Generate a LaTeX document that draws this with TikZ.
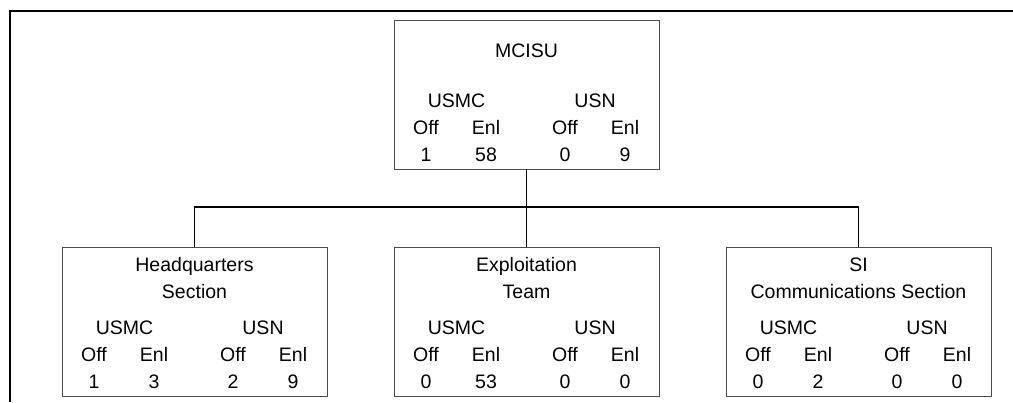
\documentclass[tikz,border=0pt]{standalone}
\usepackage{fontspec}
\setmainfont{Liberation Sans}
\usetikzlibrary{positioning,calc}
\tikzstyle{unit} =[rectangle, draw=black!70, line width=0.5pt, minimum width=5.3cm,
                   minimum height=2.98cm, inner sep=0pt]
\tikzstyle{lbl}  =[inner sep=0pt, anchor=base, font=\fontsize{11.1}{13}\selectfont]
\tikzstyle{link} =[line width=0.6pt, black]
\tikzstyle{frame}=[line width=1.5pt, black]

% counts table inside a unit box: USMC Off/Enl, USN Off/Enl
\newcommand{\strength}[5]{%
  \node[lbl] (#1-usmc) at ([shift={(-70,88)}]#1.north)    {USMC};
  \node[lbl] (#1-usn)  at ([shift={(68.5,88)}]#1.north)   {USN};
  \node[lbl] (#1-moff) at ([shift={(-100.5,115)}]#1.north) {Off};
  \node[lbl] (#1-menl) at ([shift={(-40.5,115)}]#1.north)  {Enl};
  \node[lbl] (#1-noff) at ([shift={(38.5,115)}]#1.north)   {Off};
  \node[lbl] (#1-nenl) at ([shift={(98.5,115)}]#1.north)   {Enl};
  \node[lbl] (#1-mo)   at ([shift={(-100.5,142)}]#1.north) {#2};
  \node[lbl] (#1-me)   at ([shift={(-40.5,142)}]#1.north)  {#3};
  \node[lbl] (#1-no)   at ([shift={(38.5,142)}]#1.north)   {#4};
  \node[lbl] (#1-ne)   at ([shift={(98.5,142)}]#1.north)   {#5};
}

\begin{document}
\begin{tikzpicture}[x=0.02cm, y=-0.02cm]
  \useasboundingbox (0,0) rectangle (1013,402);

  % ── frame ──────────────────────────────────────────────────────────────────
  \coordinate (frame-bl) at (10,402);
  \coordinate (frame-tr) at (1013,11);
  \draw[frame] (frame-bl) |- (frame-tr);

  % ── units ──────────────────────────────────────────────────────────────────
  \node[unit] (mcisu) at (526.5, 94.5)  {};
  \node[unit] (hq)    at (194.5, 321.5) {};
  \node[unit] (exp)   at (526.5, 321.5) {};
  \node[unit] (si)    at (858.5, 321.5) {};

  \node[lbl] (mcisu-title) at ([shift={(0,38)}]mcisu.north) {MCISU};
  \node[lbl] (hq-title)    at ([shift={(0,25)}]hq.north)    {Headquarters};
  \node[lbl] (hq-title2)   at ([shift={(0,52)}]hq.north)    {Section};
  \node[lbl] (exp-title)   at ([shift={(0,25)}]exp.north)   {Exploitation};
  \node[lbl] (exp-title2)  at ([shift={(0,52)}]exp.north)   {Team};
  \node[lbl] (si-title)    at ([shift={(0,25)}]si.north)    {SI};
  \node[lbl] (si-title2)   at ([shift={(0,52)}]si.north)    {Communications Section};

  \strength{mcisu}{1}{58}{0}{9}
  \strength{hq}{1}{3}{2}{9}
  \strength{exp}{0}{53}{0}{0}
  \strength{si}{0}{2}{0}{0}

  % ── links ──────────────────────────────────────────────────────────────────
  \coordinate (bus) at (526.5, 207);
  \draw[link] (mcisu.south) -- (exp.north);
  \draw[link] (hq.north) |- (bus) -| (si.north);

\end{tikzpicture}
\end{document}
